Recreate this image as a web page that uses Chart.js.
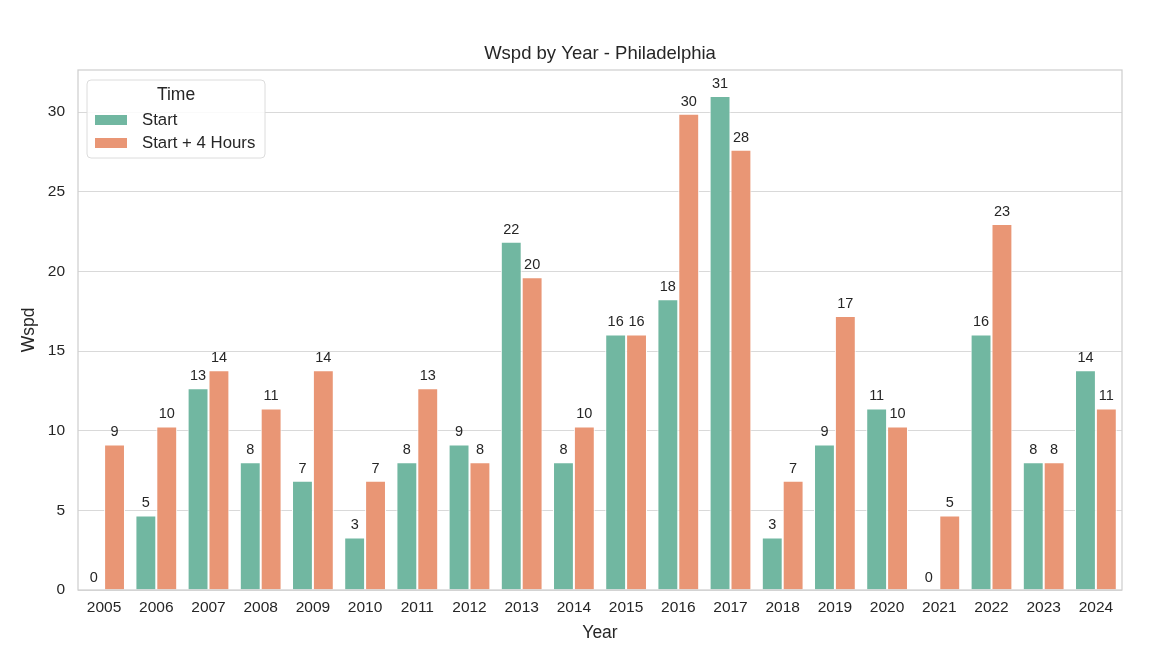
<!DOCTYPE html>
<html>
<head>
<meta charset="utf-8">
<script src="https://cdn.jsdelivr.net/npm/chart.js@4.4.1/dist/chart.umd.min.js"></script>
<style>
html, body { margin: 0; padding: 0; background: #fff; }
</style>
</head>
<body>
<canvas id="wspdChart" width="1162" height="672"></canvas>
<script>
// Data
const years = ['2005', '2006', '2007', '2008', '2009', '2010', '2011', '2012', '2013', '2014',
               '2015', '2016', '2017', '2018', '2019', '2020', '2021', '2022', '2023', '2024'];
const startValues = [0, 4.68, 12.66, 8.02, 6.86, 3.3, 8.02, 9.14, 21.86, 8.02,
                     16.05, 18.25, 31.02, 3.3, 9.14, 11.4, 0, 16.05, 8.02, 13.8];
const plus4Values = [9.14, 10.27, 13.8, 11.4, 13.8, 6.86, 12.66, 8.02, 19.64, 10.27,
                     16.05, 29.9, 27.64, 6.86, 17.2, 10.27, 4.68, 22.98, 8.02, 11.4];
const yTicks = [0, 5, 10, 15, 20, 25, 30];
const seriesNames = ['Start', 'Start + 4 Hours'];

const textColor = '#262626';
const gridColor = '#d9d9d9';
const fontFamily = '"Liberation Sans", Arial, sans-serif';

// Frame around the plot area (seaborn whitegrid spines)
const framePlugin = {
    id: 'frame',
    afterDatasetsDraw(chart) {
        const { ctx, chartArea: a } = chart;
        ctx.save();
        ctx.strokeStyle = '#cfcfcf';
        ctx.lineWidth = 1.25;
        ctx.strokeRect(a.left, a.top, a.right - a.left, a.bottom - a.top);
        ctx.restore();
    }
};

// Rounded value above each bar
const barLabelPlugin = {
    id: 'barLabels',
    afterDatasetsDraw(chart) {
        const { ctx } = chart;
        ctx.save();
        ctx.fillStyle = textColor;
        ctx.font = '14.5px ' + fontFamily;
        ctx.textAlign = 'center';
        ctx.textBaseline = 'alphabetic';
        chart.data.datasets.forEach((ds, i) => {
            chart.getDatasetMeta(i).data.forEach((bar, j) => {
                ctx.fillText(String(Math.round(ds.data[j])), bar.x, bar.y - 8);
            });
        });
        ctx.restore();
    }
};

// Title centred over the plot area
const titlePlugin = {
    id: 'plotTitle',
    afterDraw(chart) {
        const { ctx, chartArea: a } = chart;
        ctx.save();
        ctx.fillStyle = textColor;
        ctx.font = '18.5px ' + fontFamily;
        ctx.textAlign = 'center';
        ctx.textBaseline = 'middle';
        ctx.fillText('Wspd by Year - Philadelphia', (a.left + a.right) / 2, 54);
        ctx.restore();
    }
};

// Legend box in the upper left, seaborn style
const legendPlugin = {
    id: 'boxLegend',
    afterDraw(chart) {
        const { ctx, chartArea: a } = chart;
        const x = a.left + 9, y = a.top + 10, w = 178, h = 78;
        ctx.save();
        ctx.beginPath();
        ctx.roundRect(x, y, w, h, 4);
        ctx.fillStyle = 'rgba(255,255,255,0.85)';
        ctx.fill();
        ctx.strokeStyle = '#dcdcdc';
        ctx.lineWidth = 1;
        ctx.stroke();

        ctx.fillStyle = textColor;
        ctx.font = '17.5px ' + fontFamily;
        ctx.textAlign = 'center';
        ctx.textBaseline = 'middle';
        ctx.fillText('Time', x + w / 2, y + 15);

        ctx.font = '16.8px ' + fontFamily;
        ctx.textAlign = 'left';
        chart.data.datasets.forEach((ds, i) => {
            const cy = y + 40 + i * 23;
            ctx.fillStyle = ds.backgroundColor;
            ctx.fillRect(x + 8, cy - 5, 32, 10);
            ctx.fillStyle = textColor;
            ctx.fillText(ds.label, x + 55, cy);
        });
        ctx.restore();
    }
};

const ctx = document.getElementById('wspdChart').getContext('2d');

const chart = new Chart(ctx, {
    type: 'bar',
    data: {
        labels: years,
        datasets: [
            {
                label: seriesNames[0],
                data: startValues,
                backgroundColor: '#71b7a1',
                borderColor: '#ffffff',
                borderWidth: 1
            },
            {
                label: seriesNames[1],
                data: plus4Values,
                backgroundColor: '#e99675',
                borderColor: '#ffffff',
                borderWidth: 1
            }
        ]
    },
    options: {
        responsive: false,
        animation: false,
        devicePixelRatio: 1,
        layout: {
            padding: { left: 19, right: 40, top: 70, bottom: 28 }
        },
        datasets: {
            bar: {
                categoryPercentage: 0.8,
                barPercentage: 1.0
            }
        },
        plugins: {
            legend: { display: false },
            title: { display: false },
            tooltip: { enabled: false }
        },
        scales: {
            x: {
                grid: { display: false, drawTicks: false },
                border: { display: false },
                ticks: {
                    color: textColor,
                    padding: 8,
                    font: { family: fontFamily, size: 15.5 }
                },
                title: {
                    display: true,
                    text: 'Year',
                    color: textColor,
                    padding: { top: 0, bottom: 0 },
                    font: { family: fontFamily, size: 17.5 }
                },
                afterFit: s => { s.height = 54; }
            },
            y: {
                min: 0,
                max: 32.65,
                grid: { color: gridColor, lineWidth: 1, drawTicks: false },
                border: { display: false },
                ticks: {
                    color: textColor,
                    padding: 13,
                    font: { family: fontFamily, size: 15.5 }
                },
                afterBuildTicks: s => { s.ticks = yTicks.map(v => ({ value: v })); },
                title: {
                    display: true,
                    text: 'Wspd',
                    color: textColor,
                    padding: { top: 0, bottom: 0 },
                    font: { family: fontFamily, size: 17.5 }
                },
                afterFit: s => { s.width = 59; }
            }
        }
    },
    plugins: [framePlugin, barLabelPlugin, titlePlugin, legendPlugin]
});
</script>
</body>
</html>
